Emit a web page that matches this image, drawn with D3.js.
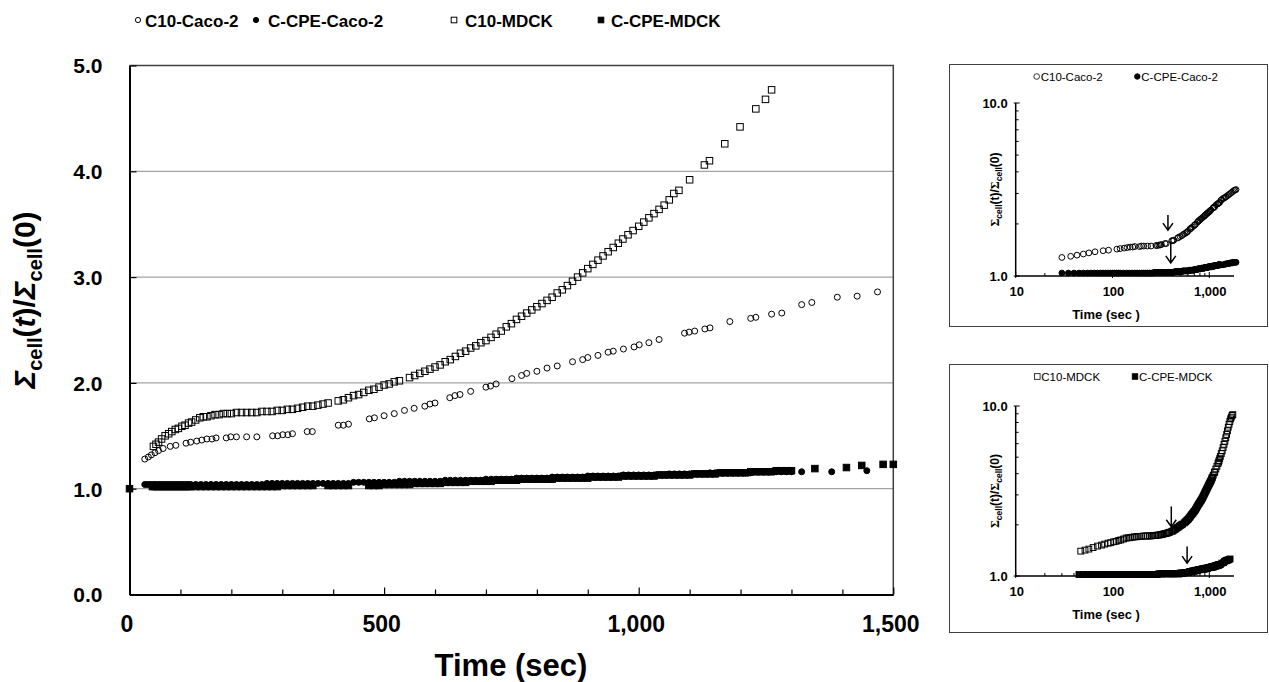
<!DOCTYPE html>
<html>
<head>
<meta charset="utf-8">
<script src="https://d3js.org/d3.v7.min.js"></script>
<style>
  body { margin: 0; background: #fff; }
  text { font-family: "Liberation Sans", Arial, sans-serif; fill: #000; }
</style>
</head>
<body>
<script>
// ---- data (time in sec, ratio Σcell(t)/Σcell(0)) ----
var seriesNames = ["C10-Caco-2", "C-CPE-Caco-2", "C10-MDCK", "C-CPE-MDCK"];

var c10Caco = [[30,1.28],[37,1.30],[43,1.32],[50,1.34],[57,1.36],[66,1.38],[80,1.40],[91,1.41],[111,1.43],[120,1.44],
  [132,1.45],[142,1.46],[152,1.47],[162,1.47],[170,1.48],[190,1.48],[199,1.49],[210,1.49],[230,1.49],[250,1.49],
  [281,1.50],[291,1.50],[301,1.51],[311,1.51],[320,1.52],[349,1.54],[359,1.54],[410,1.60],[420,1.60],[430,1.61],
  [471,1.66],[481,1.67],[500,1.69],[520,1.71],[540,1.74],[559,1.76],[580,1.78],[590,1.80],[600,1.81],[629,1.86],
  [639,1.88],[649,1.89],[670,1.92],[700,1.96],[709,1.97],[720,1.99],[751,2.04],[770,2.07],[780,2.09],[800,2.11],
  [820,2.14],[840,2.16],[870,2.20],[890,2.22],[900,2.24],[920,2.26],[940,2.29],[950,2.30],[970,2.32],[991,2.34],
  [1001,2.36],[1020,2.38],[1040,2.41],[1090,2.47],[1099,2.48],[1110,2.49],[1130,2.51],[1140,2.52],[1179,2.58],[1220,2.61],
  [1230,2.62],[1261,2.65],[1281,2.66],[1320,2.74],[1340,2.76],[1390,2.81],[1429,2.82],[1469,2.86]];

var cpeCaco = [[30,1.04],[35,1.04],[40,1.04],[45,1.04],[50,1.04],[55,1.04],[60,1.04],[65,1.04],[70,1.04],[75,1.04],
  [80,1.04],[85,1.04],[90,1.04],[95,1.04],[100,1.04],[105,1.04],[110,1.04],[115,1.04],[120,1.04],[130,1.04],
  [140,1.04],[150,1.04],[160,1.04],[170,1.04],[180,1.04],[190,1.04],[200,1.04],[210,1.04],[220,1.04],[230,1.04],
  [240,1.04],[250,1.04],[260,1.04],[270,1.05],[280,1.05],[290,1.05],[300,1.05],[310,1.05],[320,1.05],[330,1.05],
  [340,1.05],[350,1.05],[360,1.05],[370,1.05],[380,1.05],[390,1.05],[400,1.05],[410,1.05],[420,1.05],[430,1.05],
  [440,1.06],[450,1.06],[460,1.06],[470,1.06],[480,1.06],[490,1.06],[500,1.06],[510,1.06],[520,1.06],[530,1.07],
  [540,1.07],[550,1.07],[560,1.07],[570,1.07],[580,1.07],[590,1.07],[600,1.07],[610,1.07],[620,1.08],[630,1.08],
  [640,1.08],[650,1.08],[660,1.08],[670,1.08],[680,1.08],[690,1.08],[700,1.09],[710,1.09],[720,1.09],[730,1.09],
  [740,1.09],[750,1.09],[760,1.10],[770,1.10],[780,1.10],[790,1.10],[800,1.10],[810,1.10],[820,1.10],[830,1.11],
  [840,1.11],[850,1.11],[860,1.11],[870,1.11],[880,1.11],[890,1.11],[900,1.12],[910,1.12],[920,1.12],[930,1.12],
  [940,1.12],[950,1.12],[960,1.12],[970,1.13],[980,1.13],[990,1.13],[1000,1.13],[1010,1.13],[1020,1.13],[1030,1.13],
  [1040,1.13],[1050,1.13],[1060,1.14],[1070,1.14],[1080,1.14],[1090,1.14],[1100,1.14],[1110,1.14],[1120,1.14],[1130,1.14],
  [1140,1.15],[1150,1.15],[1160,1.15],[1170,1.15],[1180,1.15],[1190,1.15],[1200,1.15],[1210,1.15],[1220,1.15],[1230,1.16],
  [1240,1.16],[1250,1.16],[1260,1.16],[1270,1.16],[1280,1.16],[1290,1.16],[1300,1.16],[1320,1.16],[1379,1.16],[1448,1.17]];

var c10Mdck = [[47,1.40],[52,1.42],[57,1.44],[63,1.47],[70,1.50],[77,1.52],[83,1.54],[90,1.56],[96,1.57],[103,1.59],
  [109,1.60],[116,1.62],[122,1.63],[130,1.65],[138,1.67],[145,1.68],[152,1.68],[160,1.69],[168,1.70],[176,1.70],
  [184,1.71],[192,1.71],[200,1.71],[210,1.72],[220,1.72],[230,1.72],[240,1.72],[250,1.72],[260,1.73],[270,1.73],
  [280,1.73],[290,1.74],[300,1.74],[310,1.75],[320,1.75],[330,1.76],[340,1.77],[350,1.78],[360,1.78],[370,1.79],
  [380,1.80],[390,1.81],[410,1.83],[420,1.84],[430,1.86],[440,1.88],[450,1.89],[460,1.91],[470,1.93],[480,1.94],
  [490,1.96],[500,1.98],[510,1.99],[520,2.01],[530,2.02],[550,2.05],[560,2.07],[570,2.09],[580,2.11],[590,2.13],
  [600,2.15],[610,2.17],[620,2.20],[630,2.22],[640,2.25],[650,2.28],[660,2.30],[670,2.33],[680,2.35],[690,2.38],
  [700,2.40],[710,2.43],[720,2.46],[730,2.49],[740,2.53],[750,2.56],[760,2.60],[770,2.63],[780,2.66],[790,2.69],
  [800,2.72],[810,2.75],[820,2.78],[830,2.81],[840,2.85],[850,2.88],[860,2.92],[870,2.96],[880,3.00],[890,3.04],
  [900,3.08],[910,3.12],[920,3.16],[930,3.20],[940,3.24],[950,3.28],[960,3.32],[969,3.36],[979,3.40],[989,3.44],
  [1000,3.48],[1010,3.52],[1020,3.56],[1030,3.60],[1040,3.64],[1050,3.68],[1060,3.73],[1069,3.79],[1079,3.82],[1100,3.92],
  [1129,4.06],[1139,4.10],[1169,4.26],[1199,4.42],[1230,4.59],[1249,4.68],[1261,4.77]];

var cpeMdck = [[0,1.00],[45,1.02],[50,1.02],[55,1.02],[60,1.02],[65,1.02],[70,1.02],[75,1.02],[80,1.02],[85,1.02],
  [90,1.02],[95,1.02],[100,1.02],[105,1.02],[110,1.02],[115,1.02],[120,1.02],[130,1.02],[140,1.02],[150,1.02],
  [160,1.02],[170,1.02],[180,1.02],[190,1.02],[200,1.02],[210,1.02],[220,1.02],[230,1.02],[240,1.02],[250,1.02],
  [260,1.02],[270,1.02],[280,1.02],[290,1.02],[300,1.03],[310,1.03],[320,1.03],[330,1.03],[340,1.03],[350,1.03],
  [360,1.03],[390,1.03],[400,1.03],[410,1.03],[420,1.03],[430,1.03],[470,1.03],[480,1.03],[490,1.03],[500,1.04],
  [510,1.04],[520,1.04],[530,1.04],[540,1.04],[550,1.04],[560,1.05],[570,1.05],[580,1.05],[590,1.05],[600,1.05],
  [610,1.05],[620,1.06],[630,1.06],[640,1.06],[650,1.06],[660,1.06],[670,1.07],[680,1.07],[690,1.07],[700,1.07],
  [710,1.07],[720,1.08],[730,1.08],[740,1.08],[750,1.08],[760,1.08],[770,1.09],[780,1.09],[790,1.09],[800,1.09],
  [810,1.09],[820,1.09],[830,1.09],[840,1.10],[850,1.10],[860,1.10],[870,1.10],[880,1.10],[890,1.10],[900,1.10],
  [910,1.11],[920,1.11],[930,1.11],[940,1.11],[950,1.11],[960,1.11],[970,1.12],[980,1.12],[990,1.12],[1000,1.12],
  [1010,1.12],[1020,1.12],[1030,1.12],[1040,1.13],[1050,1.13],[1060,1.13],[1070,1.13],[1080,1.13],[1090,1.13],[1100,1.13],
  [1110,1.14],[1120,1.14],[1130,1.14],[1140,1.14],[1150,1.14],[1160,1.15],[1170,1.15],[1180,1.15],[1190,1.15],[1200,1.15],
  [1210,1.15],[1220,1.16],[1230,1.16],[1240,1.16],[1250,1.16],[1260,1.16],[1270,1.17],[1280,1.17],[1290,1.17],[1300,1.17],
  [1346,1.19],[1408,1.20],[1438,1.22],[1480,1.23],[1500,1.23]];

// longer runs only shown in the log-log insets
var c10CacoTail = [[1500,2.88],[1550,2.92],[1600,2.96],[1650,3.00],[1700,3.04],[1750,3.08],[1800,3.12],[1850,3.14],[1890,3.16]];
var cpeCacoTail = [[1480,1.17],[1520,1.18],[1560,1.18],[1600,1.18],[1640,1.19],[1680,1.19],[1720,1.19],[1760,1.20],[1800,1.20],[1850,1.20],[1890,1.20]];
var c10MdckTail = [[1280,4.90],[1300,5.05],[1330,5.25],[1360,5.45],[1390,5.70],[1420,5.95],[1450,6.20],[1480,6.50],[1510,6.80],
  [1540,7.15],[1570,7.50],[1600,7.80],[1630,8.10],[1660,8.40],[1690,8.60],[1720,8.80],[1750,8.90]];
var cpeMdckTail = [[1530,1.24],[1560,1.24],[1600,1.25],[1640,1.26]];

// arrows in insets: [time, tip value, tail value]
var cacoArrows = [[374,1.84,2.25],[400,1.19,1.58]];
var mdckArrows = [[405,1.95,2.56],[590,1.19,1.49]];

// ticks
var xMajorTicks = [0,500,1000,1500];
var xMinorTicks = [100,200,300,400,600,700,800,900,1100,1200,1300,1400];
var yTicks = [0,1,2,3,4,5];
var yGrid = [1,2,3,4];
var insetXTicks = [10,100,1000];
var insetXMinor = [20,30,40,50,60,70,80,90,200,300,400,500,600,700,800,900];
var insetYTicks = [1,10];
var insetYMinor = [2,3,4,5,6,7,8,9];

// ---- layout ----
var width = 1269, height = 682;
var plot = {left: 129.5, right: 893.3, top: 65.5, bottom: 594.5};

var svg = d3.select("body").append("svg")
  .attr("width", width)
  .attr("height", height);

var x = d3.scaleLinear().domain([0,1500]).range([plot.left, plot.right]);
var y = d3.scaleLinear().domain([0,5]).range([plot.bottom, plot.top]);

function drawMarkers(g, data, xs, ys, shape, size) {
  var sel = g.append("g");
  if (shape.indexOf("circle") === 0) {
    sel.selectAll("circle").data(data).join("circle")
      .attr("cx", d => xs(d[0])).attr("cy", d => ys(d[1]))
      .attr("r", size / 2)
      .attr("fill", shape === "circleFilled" ? "#000" : "none")
      .attr("stroke", "#000").attr("stroke-width", 1);
  } else {
    sel.selectAll("rect").data(data).join("rect")
      .attr("x", d => xs(d[0]) - size / 2).attr("y", d => ys(d[1]) - size / 2)
      .attr("width", size).attr("height", size)
      .attr("fill", shape === "squareFilled" ? "#000" : "none")
      .attr("stroke", "#000").attr("stroke-width", 1);
  }
  return sel;
}

// gridlines
svg.append("g").selectAll("line").data(yGrid).join("line")
  .attr("x1", plot.left).attr("x2", plot.right)
  .attr("y1", d => y(d)).attr("y2", d => y(d))
  .attr("stroke", "#8c8c8c").attr("stroke-width", 1);

// frame top / right
svg.append("path")
  .attr("d", `M${plot.left},${plot.top}H${plot.right}V${plot.bottom}`)
  .attr("fill", "none").attr("stroke", "#404040").attr("stroke-width", 1.5);

// axes
var xAxis = svg.append("g").attr("transform", `translate(0,${plot.bottom})`)
  .call(d3.axisBottom(x).tickValues(xMajorTicks).tickFormat(d3.format(",")).tickSizeInner(-7).tickSizeOuter(0));
svg.append("g").attr("transform", `translate(0,${plot.bottom})`)
  .call(d3.axisBottom(x).tickValues(xMinorTicks).tickFormat("").tickSizeInner(-5).tickSizeOuter(0))
  .call(g => g.select(".domain").remove());
xAxis.selectAll("text")
  .attr("y", 37).attr("dy", 0).attr("dx", -3)
  .style("font-size", "23px").style("font-weight", "bold");

var yAxis = svg.append("g").attr("transform", `translate(${plot.left},0)`)
  .call(d3.axisLeft(y).tickValues(yTicks).tickFormat(d3.format(".1f")).tickSizeInner(-7).tickSizeOuter(0));
yAxis.selectAll("text")
  .attr("x", -27).attr("dy", "0.35em")
  .style("font-size", "21px").style("font-weight", "bold");
svg.selectAll(".domain").attr("stroke", "#000").attr("stroke-width", 2);
svg.selectAll(".tick line").attr("stroke", "#000").attr("stroke-width", 1.2);

// series
var mainG = svg.append("g");
drawMarkers(mainG, c10Caco, x, y, "circleOpen", 6);
drawMarkers(mainG, cpeCaco, x, y, "circleFilled", 6);
drawMarkers(mainG, c10Mdck, x, y, "squareOpen", 6.5);
drawMarkers(mainG, cpeMdck, x, y, "squareFilled", 6.5);

// axis titles
svg.append("text")
  .attr("x", 511).attr("y", 676)
  .attr("text-anchor", "middle")
  .style("font-size", "31px").style("font-weight", "bold")
  .text("Time (sec)");

var yTitle = svg.append("text")
  .attr("transform", "translate(35,300) rotate(-90)")
  .attr("text-anchor", "middle")
  .style("font-size", "30px").style("font-weight", "bold");
function sigmaTitle(t, italicT) {
  t.append("tspan").style("font-style", "italic").text("Σ");
  t.append("tspan").attr("dy", 7).style("font-size", "20px").text("cell");
  t.append("tspan").attr("dy", -7).text("(");
  t.append("tspan").style("font-style", italicT ? "italic" : "normal").text("t");
  t.append("tspan").text(")/");
  t.append("tspan").style("font-style", "italic").text("Σ");
  t.append("tspan").attr("dy", 7).style("font-size", "20px").text("cell");
  t.append("tspan").attr("dy", -7).text("(0)");
}
sigmaTitle(yTitle, true);

// top legend
var legendPos = [[138,145],[256,268],[454,465],[601,611]];
var legendShapes = ["circleOpen","circleFilled","squareOpen","squareFilled"];
var legendG = svg.append("g");
seriesNames.forEach(function(name, i) {
  var mx = legendPos[i][0];
  var s = legendShapes[i];
  if (s.indexOf("circle") === 0) {
    legendG.append("circle").attr("cx", mx).attr("cy", 20).attr("r", 2.6)
      .attr("fill", s === "circleFilled" ? "#000" : "#fff").attr("stroke", "#000");
  } else {
    legendG.append("rect").attr("x", mx - 2.8).attr("y", 17.2).attr("width", 5.6).attr("height", 5.6)
      .attr("fill", s === "squareFilled" ? "#000" : "#fff").attr("stroke", "#000");
  }
  legendG.append("text").attr("x", legendPos[i][1]).attr("y", 27)
    .style("font-size", "17px").style("font-weight", "bold").text(name);
});

// ---- insets ----
var ix = d3.scaleLog().domain([10,1800]).range([1015.7, 1234]);

function drawInset(box, yRange, seriesA, seriesB, shapes, names, legendX, arrows) {
  var g = svg.append("g");
  g.append("rect")
    .attr("x", box[0]).attr("y", box[1]).attr("width", box[2]).attr("height", box[3])
    .attr("fill", "#fff").attr("stroke", "#404040").attr("stroke-width", 1);
  var iy = d3.scaleLog().domain([1,10]).range(yRange);

  // ticks
  g.append("g").selectAll("line").data(insetYMinor).join("line")
    .attr("x1", ix.range()[0]).attr("x2", ix.range()[0] + 3)
    .attr("y1", d => iy(d)).attr("y2", d => iy(d)).attr("stroke", "#000");
  g.append("g").selectAll("line").data(insetYTicks).join("line")
    .attr("x1", ix.range()[0] - 2).attr("x2", ix.range()[0] + 4)
    .attr("y1", d => iy(d)).attr("y2", d => iy(d)).attr("stroke", "#000");
  g.append("g").selectAll("line").data(insetXMinor).join("line")
    .attr("x1", d => ix(d)).attr("x2", d => ix(d))
    .attr("y1", yRange[0]).attr("y2", yRange[0] - 3).attr("stroke", "#000");
  g.append("g").selectAll("line").data(insetXTicks).join("line")
    .attr("x1", d => ix(d)).attr("x2", d => ix(d))
    .attr("y1", yRange[0] + 2).attr("y2", yRange[0] - 4).attr("stroke", "#000");

  g.append("path")
    .attr("d", `M${ix.range()[0]},${yRange[1]}V${yRange[0]}H${ix.range()[1]}`)
    .attr("fill", "none").attr("stroke", "#000").attr("stroke-width", 1.5);

  g.append("g").selectAll("text").data(insetYTicks).join("text")
    .attr("x", ix.range()[0] - 8).attr("y", d => iy(d)).attr("dy", "0.35em")
    .attr("text-anchor", "end")
    .style("font-size", "13px").style("font-weight", "bold")
    .text(d3.format(".1f"));
  g.append("g").selectAll("text").data(insetXTicks).join("text")
    .attr("x", d => ix(d) + 1).attr("y", yRange[0] + 20)
    .attr("text-anchor", "middle")
    .style("font-size", "13px").style("font-weight", "bold")
    .text(d3.format(","));

  g.append("text")
    .attr("x", 1106).attr("y", yRange[0] + 43)
    .attr("text-anchor", "middle")
    .style("font-size", "13px").style("font-weight", "bold")
    .text("Time (sec )");

  var t = g.append("text")
    .attr("transform", `translate(${999},${(yRange[0] + yRange[1]) / 2}) rotate(-90)`)
    .attr("text-anchor", "middle")
    .style("font-size", "12px").style("font-weight", "bold");
  t.append("tspan").style("font-family", "'Liberation Serif', serif").text("Σ");
  t.append("tspan").attr("dy", 2.5).style("font-size", "8.5px").text("cell");
  t.append("tspan").attr("dy", -2.5).text("(t)/");
  t.append("tspan").style("font-family", "'Liberation Serif', serif").text("Σ");
  t.append("tspan").attr("dy", 2.5).style("font-size", "8.5px").text("cell");
  t.append("tspan").attr("dy", -2.5).text("(0)");

  // legend
  var ly = box[1] + 12;
  [0,1].forEach(function(i) {
    var mx = legendX[i], s = shapes[i];
    if (s.indexOf("circle") === 0) {
      g.append("circle").attr("cx", mx).attr("cy", ly).attr("r", 2.8)
        .attr("fill", s === "circleFilled" ? "#000" : "#fff").attr("stroke", "#000").attr("stroke-width", 0.8);
    } else {
      g.append("rect").attr("x", mx - 2.8).attr("y", ly - 2.8).attr("width", 5.6).attr("height", 5.6)
        .attr("fill", s === "squareFilled" ? "#000" : "#fff").attr("stroke", "#000").attr("stroke-width", 0.8);
    }
    g.append("text").attr("x", mx + 4).attr("y", ly + 4)
      .style("font-size", "11.5px").text(names[i]);
  });

  drawMarkers(g, seriesA, ix, iy, shapes[0], 5.8);
  drawMarkers(g, seriesB, ix, iy, shapes[1], 5.8);

  // arrows
  arrows.forEach(function(a) {
    var ax = ix(a[0]), tip = iy(a[1]), tail = iy(a[2]);
    g.append("path")
      .attr("d", `M${ax},${tail}V${tip}M${ax - 5},${tip - 7}L${ax},${tip}L${ax + 5},${tip - 7}`)
      .attr("fill", "none").attr("stroke", "#000").attr("stroke-width", 1.5);
  });
}

drawInset([949.5, 64.5, 318, 262], [276, 103],
  c10Caco.concat(c10CacoTail), cpeCaco.concat(cpeCacoTail),
  ["circleOpen","circleFilled"], ["C10-Caco-2","C-CPE-Caco-2"], [1036.7, 1137.3], cacoArrows);

drawInset([949.5, 364.5, 318, 268], [576, 406],
  c10Mdck.concat(c10MdckTail), cpeMdck.filter(d => d[0] > 0).concat(cpeMdckTail),
  ["squareOpen","squareFilled"], ["C10-MDCK","C-CPE-MDCK"], [1037.3, 1135], mdckArrows);
</script>
</body>
</html>
